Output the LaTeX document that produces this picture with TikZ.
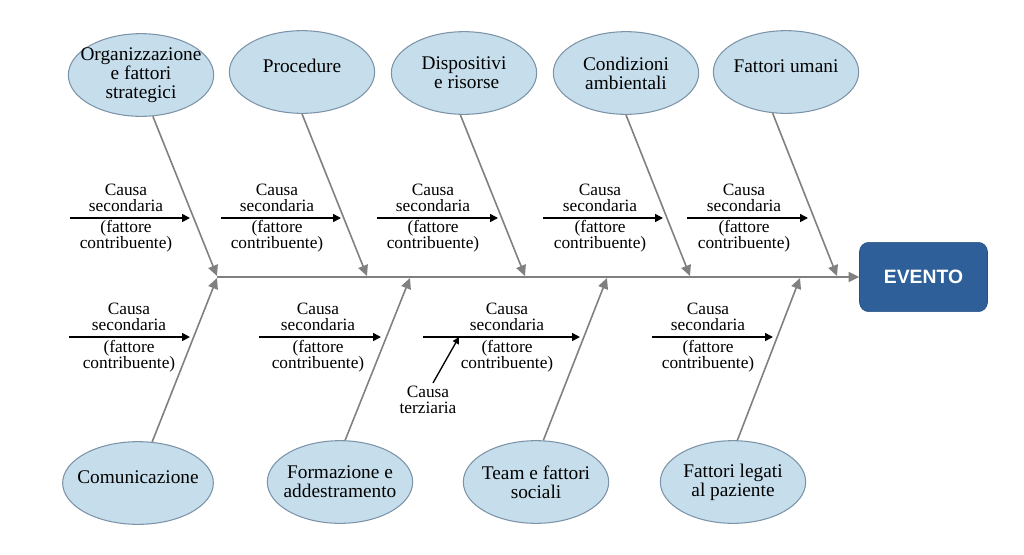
\documentclass[tikz,border=0pt]{standalone}
\usepackage{fontspec}
\setmainfont{Liberation Serif}
\newfontfamily\causefont{Liberation Serif}
\newfontfamily\eventfont{Liberation Sans}
\usetikzlibrary{arrows.meta, positioning, shapes.geometric}
\definecolor{bubblefill}{RGB}{198,222,236}
\definecolor{bubbleedge}{RGB}{125,148,168}
\definecolor{eventblue}{RGB}{46,95,152}
\definecolor{bonegray}{RGB}{128,128,128}

\begin{document}
\begin{tikzpicture}[x=0.75pt, y=-0.75pt,
  cause/.style={ellipse, draw=bubbleedge, fill=bubblefill, line width=0.8pt,
    minimum width=109pt, minimum height=62pt, inner xsep=-10pt, inner ysep=-4pt,
    align=center, font=\causefont\fontsize{14.5}{14.3}\selectfont},
  bone/.style={draw=bonegray, line width=1.2pt, -{Triangle[length=8pt,width=7.5pt]}},
  subcause/.style={line width=1.2pt, -{Triangle[length=6pt,width=6pt]}},
  sublabel/.style={align=center, inner sep=0pt, font=\causefont\fontsize{13}{12}\selectfont}]
  \useasboundingbox (0,0) rectangle (1024,554);

  % effect (head of the fish)
  \node[fill=eventblue, draw=eventblue!85!black, rounded corners=7pt,
    minimum width=96pt, minimum height=52pt, text=white,
    font=\eventfont\bfseries\fontsize{14.5}{16}\selectfont] (evento) at (923.5,277) {EVENTO};

  % main categories, upper row
  \node[cause] (org) at (141,75) {Organizzazione\\e fattori\\strategici};
  \node[cause] (proc) at (302,72) {Procedure\\[-5pt]\mbox{}};
  \node[cause] (disp) at (464,73) {Dispositivi\\\hspace*{4pt}e risorse};
  \node[cause] (cond) at (626,73) {Condizioni\\ambientali};
  \node[cause] (umani) at (786,72) {Fattori umani\\[-5pt]\mbox{}};
  % main categories, lower row
  \node[cause, minimum width=113pt] (com) at (138,483) {Comunicazione\\[-5pt]\mbox{}};
  \node[cause] (form) at (340,482) {Formazione e\\addestramento};
  \node[cause] (team) at (536,482) {Team e fattori\\sociali};
  \node[cause] (paz) at (733,482) {Fattori legati\\al paziente};

  % spine
  \coordinate (sp) at (217,277);
  \draw[bone] (sp) -- (sp -| evento.west);

  % tips of the bones on the spine
  \coordinate (t1) at (217,276);
  \coordinate (t2) at (367,276);
  \coordinate (t3) at (525,276);
  \coordinate (t4) at (690,276);
  \coordinate (t5) at (837,276);
  \coordinate (b1) at (217,278);
  \coordinate (b2) at (410,278);
  \coordinate (b3) at (607,278);
  \coordinate (b4) at (800,278);

  % bones
  \draw[bone] (org.-74) -- (t1);
  \draw[bone] (proc.south) -- (t2);
  \draw[bone] (disp.-95) -- (t3);
  \draw[bone] (cond.south) -- (t4);
  \draw[bone] (umani.-108) -- (t5);
  \draw[bone] (com.71) -- (b1);
  \draw[bone] (form.83) -- (b2);
  \draw[bone] (team.80) -- (b3);
  \draw[bone] (paz.84) -- (b4);

  % secondary causes, upper row (arrow at y=218)
  \coordinate (ua1) at (70,218);  \coordinate (ub1) at (190,218);
  \coordinate (ua2) at (221,218); \coordinate (ub2) at (341,218);
  \coordinate (ua3) at (377,218); \coordinate (ub3) at (498,218);
  \coordinate (ua4) at (543,218); \coordinate (ub4) at (663,218);
  \coordinate (ua5) at (687,218); \coordinate (ub5) at (808,218);
  \draw[subcause] (ua1) -- (ub1);
  \draw[subcause] (ua2) -- (ub2);
  \draw[subcause] (ua3) -- (ub3);
  \draw[subcause] (ua4) -- (ub4);
  \draw[subcause] (ua5) -- (ub5);
  \node[sublabel] (us1) at (126,198) {Causa\\secondaria};
  \node[sublabel] (uf1) at (126,236) {(fattore\\contribuente)};
  \node[sublabel] (us2) at (277,198) {Causa\\secondaria};
  \node[sublabel] (uf2) at (277,236) {(fattore\\contribuente)};
  \node[sublabel] (us3) at (433,198) {Causa\\secondaria};
  \node[sublabel] (uf3) at (433,236) {(fattore\\contribuente)};
  \node[sublabel] (us4) at (600,198) {Causa\\secondaria};
  \node[sublabel] (uf4) at (600,236) {(fattore\\contribuente)};
  \node[sublabel] (us5) at (744,198) {Causa\\secondaria};
  \node[sublabel] (uf5) at (744,236) {(fattore\\contribuente)};

  % secondary causes, lower row (arrow at y=337)
  \coordinate (la1) at (69,337);  \coordinate (lb1) at (190,337);
  \coordinate (la2) at (259,337); \coordinate (lb2) at (381,337);
  \coordinate (la3) at (423,337); \coordinate (lb3) at (580,337);
  \coordinate (la4) at (652,337); \coordinate (lb4) at (773,337);
  \draw[subcause] (la1) -- (lb1);
  \draw[subcause] (la2) -- (lb2);
  \draw[subcause] (la3) -- (lb3);
  \draw[subcause] (la4) -- (lb4);
  \node[sublabel] (ls1) at (129,317) {Causa\\secondaria};
  \node[sublabel] (lf1) at (129,356) {(fattore\\contribuente)};
  \node[sublabel] (ls2) at (318,317) {Causa\\secondaria};
  \node[sublabel] (lf2) at (318,356) {(fattore\\contribuente)};
  \node[sublabel] (ls3) at (507,317) {Causa\\secondaria};
  \node[sublabel] (lf3) at (507,356) {(fattore\\contribuente)};
  \node[sublabel] (ls4) at (708,317) {Causa\\secondaria};
  \node[sublabel] (lf4) at (708,356) {(fattore\\contribuente)};

  % tertiary cause
  \coordinate (tq) at (459,337);
  \node[sublabel] (ter) at (428,400) {Causa\\terziaria};
  \draw[subcause, line width=1pt, -{Triangle[length=5pt,width=5pt]}]
    ([shift={(5,-3)}]ter.north) -- (tq);
\end{tikzpicture}
\end{document}
